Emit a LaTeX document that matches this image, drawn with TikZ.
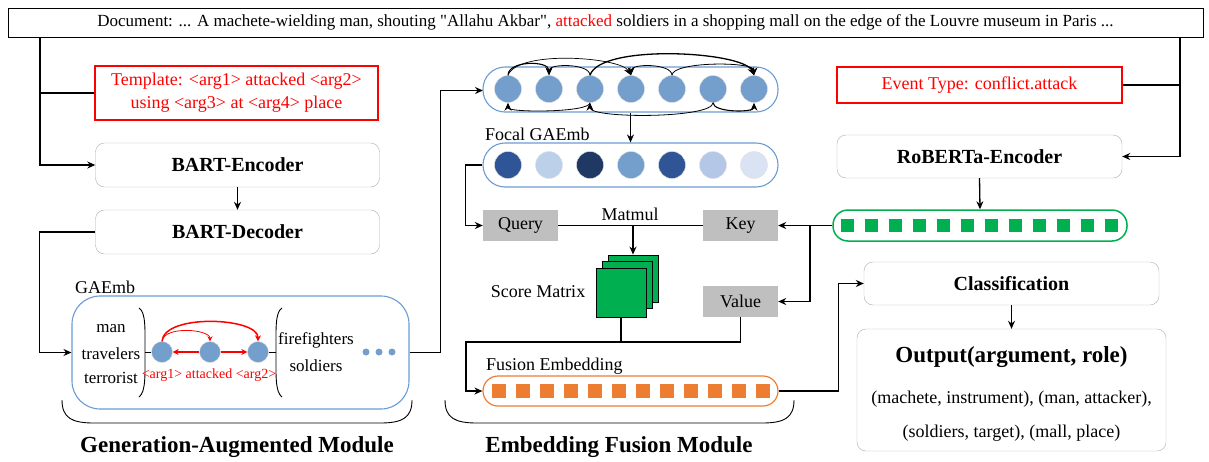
\documentclass[tikz,border=0pt]{standalone}
\usepackage{fontspec}
\setmainfont{Liberation Serif}
\usepackage{tikz}
\usetikzlibrary{arrows.meta, positioning, calc}
\usepackage{xcolor}
\definecolor{nodeblue}{RGB}{116,159,204}
\definecolor{boxblue}{RGB}{108,155,210}
\definecolor{keygray}{RGB}{191,191,191}
\definecolor{fgreen}{RGB}{0,176,80}
\definecolor{forange}{RGB}{237,125,49}
\definecolor{fcA}{RGB}{47,85,151}
\definecolor{fcB}{RGB}{189,208,233}
\definecolor{fcC}{RGB}{31,56,100}
\definecolor{fcD}{RGB}{116,159,204}
\definecolor{fcE}{RGB}{180,199,231}
\definecolor{fcF}{RGB}{218,227,243}

\begin{document}
\begin{tikzpicture}[x=1pt, y=-1pt, >={Stealth[length=8pt,width=7pt]},
    conn/.style={line width=1.3pt},
    modbox/.style={draw=gray!65, rounded corners=9pt, minimum width=284pt, minimum height=44pt, inner sep=0pt, font=\fontsize{20}{24}\selectfont\bfseries},
    redbox/.style={draw=red, line width=1.2pt, text=red, inner sep=0pt, align=center, font=\fontsize{18}{23}\selectfont},
    qkv/.style={fill=keygray, minimum width=75pt, minimum height=31pt, inner sep=0pt, font=\fontsize{18}{21}\selectfont},
    lab/.style={inner sep=0pt, font=\fontsize{18}{21}\selectfont},
    word/.style={inner sep=0pt, font=\fontsize{17}{20}\selectfont},
    bigtitle/.style={inner sep=0pt, font=\fontsize{23}{27}\selectfont\bfseries},
    embdot/.style={circle, fill=nodeblue, draw=gray!25, minimum size=27pt, inner sep=0pt},
    pill/.style={draw=boxblue, line width=1.1pt, inner sep=0pt}]
    \useasboundingbox (0,0) rectangle (1209,461);

    % input document
    \node (doc) [draw, line width=1pt, minimum width=1195pt, minimum height=29pt, inner sep=0pt, font=\fontsize{17}{20}\selectfont] at (605.5,22.5)
        {Document: ... A machete-wielding man, shouting \textquotedbl Allahu Akbar\textquotedbl, \textcolor{red}{attacked} soldiers in a shopping mall on the edge of the Louvre museum in Paris ...};
    \coordinate (lbus) at (40,37);
    \coordinate (rbus) at (1180,37);

    % generation-augmented module
    \node (tmpl) [redbox, minimum width=283pt, minimum height=54pt] at (236.5,93) {Template: <arg1> attacked <arg2>\\using <arg3> at <arg4> place};
    \node (benc) [modbox] at (237.5,165) {BART-Encoder};
    \node (bdec) [modbox] at (237.5,232) {BART-Decoder};
    \node (gae) [pill, rounded corners=28pt, minimum width=337pt, minimum height=113pt] at (240.5,352.5) {};
    \node (gaelab) [lab, anchor=west] at (75,287) {GAEmb};
    \node (wman) [word] at (111,329) {man};
    \node (wtra) [word] at (111,354) {travelers};
    \node (wter) [word] at (111,378) {terrorist};
    \node (wfir) [word] at (316,340) {firefighters};
    \node (wsol) [word] at (316,366) {soldiers};
    \draw [line width=0.9pt] (139,308) .. controls (146,312) and (145,330) .. (145,352) .. controls (145,374) and (146,392) .. (139,397);
    \draw [line width=0.9pt] (282,308) .. controls (275,312) and (276,330) .. (276,352) .. controls (276,374) and (275,392) .. (282,397);
    \node (g1) [embdot, minimum size=21pt] at (162,352) {};
    \node (g2) [embdot, minimum size=21pt] at (210,352) {};
    \node (g3) [embdot, minimum size=21pt] at (258,352) {};
    \draw [line width=0.9pt] (145,352) -- (g1.west);
    \draw [line width=0.9pt] (g3.east) -- (276,352);
    \draw [->, red, line width=1.3pt, >={Stealth[length=6pt,width=6pt]}] (g2) -- (g1);
    \draw [->, red, line width=1.3pt, >={Stealth[length=6pt,width=6pt]}] (g2) -- (g3);
    \draw [->, red, line width=0.8pt, >={Stealth[length=5pt,width=5pt]}] (g1.north) .. controls +(2,-16) and +(0,-12) .. (g2.north);
    \draw [->, red, line width=1.5pt, >={Stealth[length=6pt,width=6pt]}] (g1.north) .. controls +(2,-28) and +(0,-24) .. (g3.north);
    \node (gargs) [inner sep=0pt, text=red, font=\fontsize{14}{16}\selectfont] at (209,375) {<arg1> attacked <arg2>};
    \foreach \i in {0,1,2}
        \node (gd\i) [circle, fill=nodeblue, minimum size=7pt, inner sep=0pt] at (366+13*\i,352) {};
    \draw [line width=0.9pt] (62,400) .. controls (62,418) and (72,423) .. (94,423) -- (380,423) .. controls (402,423) and (412,418) .. (412,400);
    \node (gam) [bigtitle] at (237,447) {Generation-Augmented Module};

    \draw [conn] (lbus) -- (lbus |- tmpl.west) -- (tmpl.west);
    \draw [conn, ->] (lbus) |- (benc.west);
    \draw [conn, ->] (benc) -- (bdec);
    \draw [conn, ->] (bdec.west) -- ++(-56,0) |- (gae.west);
    \draw [conn, ->] (gae.east) -- ++(31,0) |- ($(gae.east)+(31,-262)$) -- (483,90.5);

    % embedding fusion module
    \node (top) [pill, rounded corners=22pt, minimum width=295pt, minimum height=45pt] at (630.5,89.5) {};
    \foreach \i in {1,...,7}
        \node (t\i) [embdot] at (467+41*\i,89) {};
    \draw [->, line width=1.1pt] (t1.north) .. controls +(0,-15) and +(0,-15) .. (t2.north);
    \draw [->, line width=0.7pt] (t1.north) .. controls +(10,-26) and +(-10,-18) .. (t4.north);
    \draw [->, line width=0.8pt] (t3.north) .. controls +(0,-12) and +(0,-12) .. (t2.north);
    \draw [->, line width=1.3pt] (t3.north) .. controls +(10,-32) and +(-10,-24) .. (t7.north);
    \draw [->, line width=0.8pt] (t5.north) .. controls +(0,-12) and +(0,-12) .. (t4.north);
    \draw [->, line width=0.8pt] (t5.north) .. controls +(0,-14) and +(0,-14) .. (t7.north);
    \draw [->, line width=0.8pt] (t3.south) .. controls +(0,10) and +(0,10) .. (t1.south);
    \draw [->, line width=0.8pt] (t6.south) .. controls +(0,16) and +(0,16) .. (t3.south);
    \draw [->, line width=1.1pt] (t6.south) .. controls +(0,10) and +(0,10) .. (t7.south);

    \node (foclab) [lab, anchor=west] at (485,134) {Focal GAEmb};
    \node (focal) [pill, rounded corners=22pt, minimum width=295pt, minimum height=44pt] at (630.5,165) {};
    \foreach \c [count=\i] in {fcA,fcB,fcC,fcD,fcA,fcE,fcF}
        \node (f\i) [embdot, fill=\c] at (467+41*\i,165) {};
    \draw [conn, ->] (top.south) -- (focal.north);

    \node (qry) [qkv] at (520.5,225.5) {Query};
    \node (key) [qkv] at (740.5,225.5) {Key};
    \node (val) [qkv] at (740.5,301.5) {Value};
    \node (mm) [lab] at (630,214) {Matmul};
    \draw [conn, ->] (focal.west) -- ++(-17,0) |- (qry.west);
    \draw [conn] (qry.east) -- (key.west);

    \node (sm3) [draw, fill=fgreen, line width=0.8pt, minimum width=50pt, minimum height=47pt, inner sep=0pt] at (633,278.5) {};
    \node (sm2) [draw, fill=fgreen, line width=0.8pt, minimum width=50pt, minimum height=47pt, inner sep=0pt] at (627,284.5) {};
    \node (sm1) [draw, fill=fgreen, line width=0.8pt, minimum width=50pt, minimum height=49pt, inner sep=0pt] at (621,292.5) {};
    \node (smlab) [lab] at (538,292) {Score Matrix};
    \draw [conn, ->] (qry.east -| sm3.north) -- (sm3.north);

    \coordinate (mix) at (621,342);
    \node (fuslab) [lab, anchor=west] at (486,366) {Fusion Embedding};
    \node (fus) [draw=forange, line width=1.2pt, rounded corners=15pt, minimum width=295pt, minimum height=30pt, inner sep=0pt] at (630.5,391) {};
    \foreach \i in {0,...,11}
        \node (o\i) [fill=forange, minimum size=14pt, inner sep=0pt] at (499+24*\i,391) {};
    \draw [conn] (sm1.south) -- (mix);
    \draw [conn, ->] (val.south) |- (mix) -- (466,342) |- (fus.west);
    \draw [line width=0.9pt] (445,400) .. controls (445,418) and (455,423) .. (477,423) -- (762,423) .. controls (784,423) and (794,418) .. (794,400);
    \node (efm) [bigtitle] at (619,447) {Embedding Fusion Module};

    % event type side
    \node (evt) [redbox, minimum width=285pt, minimum height=36pt] at (979.5,85) {Event Type: conflict.attack};
    \node (rob) [modbox, minimum width=285pt, minimum height=43pt] at (979.5,156.5) {RoBERTa-Encoder};
    \node (grn) [draw=fgreen, line width=1.5pt, rounded corners=15pt, minimum width=294pt, minimum height=31pt, inner sep=0pt] at (980,225.5) {};
    \foreach \i in {0,...,11}
        \node (e\i) [fill=fgreen, minimum size=13pt, inner sep=0pt] at (847+24*\i,225.5) {};
    \draw [conn] (evt.east) -- (evt.east -| rbus);
    \draw [conn, ->] (rbus) |- (rob.east);
    \draw [conn, ->] (rob.south) -- (grn.north);
    \coordinate (kv) at (810,225.5);
    \draw [conn, ->] (grn.west) -- (key.east);
    \draw [conn, ->] (kv) |- (val.east);

    \node (cls) [modbox, minimum width=295pt, minimum height=43pt] at (1011.5,283.5) {Classification};
    \node (outp) [draw=gray!65, rounded corners=9pt, minimum width=309pt, minimum height=122pt, inner sep=0pt] at (1011.5,390) {};
    \node (outt) [bigtitle] at (1011.5,357) {Output(argument, role)};
    \node (outa) [lab] at (1011.5,399) {(machete, instrument), (man, attacker),};
    \node (outb) [lab] at (1011.5,433) {(soldiers, target), (mall, place)};
    \draw [conn, ->] (fus.east) -- ++(60,0) |- (cls.west);
    \draw [conn, ->] (cls.south) -- (outp.north);
\end{tikzpicture}
\end{document}
